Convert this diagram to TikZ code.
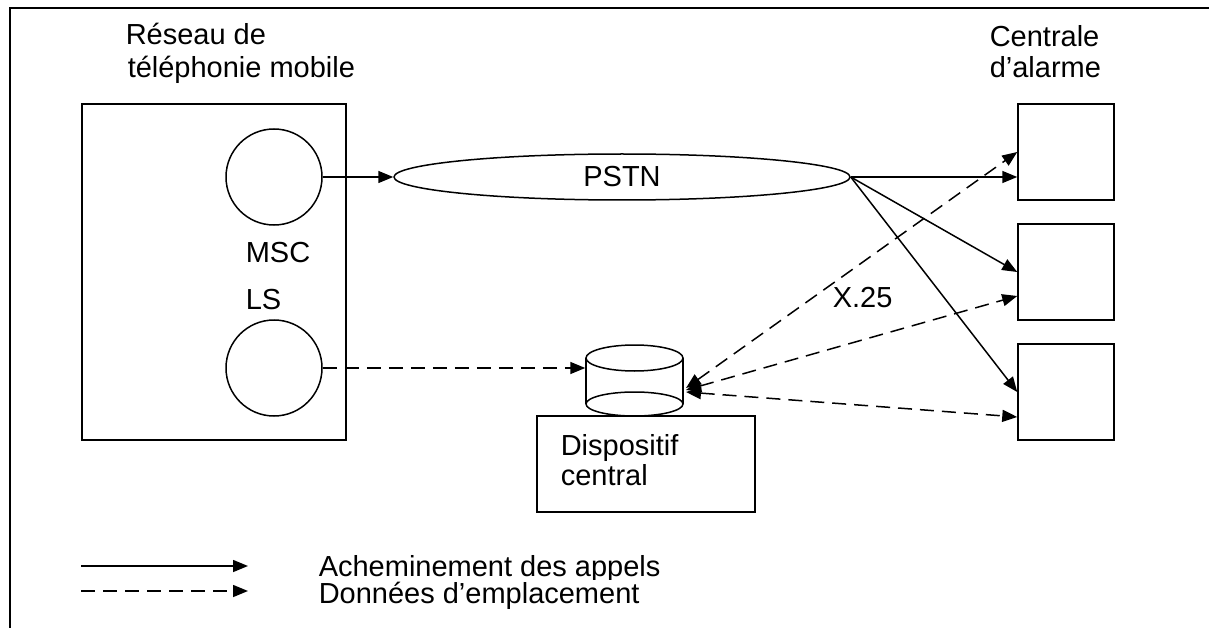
\documentclass[tikz,border=0pt]{standalone}
\usepackage{fontspec}
\setmainfont{Liberation Sans}
\usetikzlibrary{arrows.meta,shapes.geometric,calc}
\begin{document}
\begin{tikzpicture}[x=1pt,y=-1pt,
  line width=1.5pt,
  every node/.style={font=\fontsize{29}{32}\selectfont},
  box/.style={draw, rectangle, inner sep=0pt, line width=1.5pt},
  round/.style={draw, circle, inner sep=0pt, minimum size=96pt, line width=1.5pt},
  lbl/.style={anchor=base west, inner sep=0pt},
  tip/.style={-{Triangle[length=15pt,width=12pt]}},
  bitip/.style={{Triangle[length=15pt,width=12pt]}-{Triangle[length=15pt,width=12pt]}},
  dsh/.style={dash pattern=on 14pt off 8pt}
]
\useasboundingbox (0,0) rectangle (1209,628);
\draw[line width=2pt] (10,628) -- (10,8) -- (1209,8);

% titles
\node[lbl] (t1) at (125,45) {Réseau de};
\node[lbl] (t2) at (127,78) {téléphonie mobile};
\node[lbl] (t3) at (989,47) {Centrale};
\node[lbl] (t4) at (989,78) {d’alarme};

% mobile network box
\node[box, minimum width=264pt, minimum height=336pt] (mobile) at (214,272) {};
\node[round] (msc) at (274,177) {};
\node[round] (ls) at (274,368) {};
\node[lbl] (msct) at (245,262) {MSC};
\node[lbl] (lst) at (245,309) {LS};

% PSTN
\node[draw, ellipse, inner sep=0pt, minimum width=456pt, minimum height=46pt, line width=1.5pt] (pstn) at (622,177) {PSTN};

% alarm centres
\node[box, minimum width=96pt, minimum height=96pt] (c1) at (1066,152) {};
\node[box, minimum width=96pt, minimum height=96pt] (c2) at (1066,272) {};
\node[box, minimum width=96pt, minimum height=96pt] (c3) at (1066,392) {};

% central device
\node[box, minimum width=218pt, minimum height=96pt] (disp) at (646,464) {};
\node[lbl] (dt1) at (560,455) {Dispositif};
\node[lbl] (dt2) at (560,485) {central};

% cylinder
\node[inner sep=0pt, minimum width=97pt, minimum height=71pt] (cyl) at (634.5,380.5) {};
\draw (586,358) -- (586,404);
\draw (683,358) -- (683,404);
\draw[fill=white] (634.5,404) ellipse [x radius=48.5, y radius=12];
\draw[fill=white] (634.5,358) ellipse [x radius=48.5, y radius=13];
\coordinate (k1) at (686,388);
\coordinate (k2) at (686,390);
\coordinate (k3) at (686,392);

% call routing
\draw[tip] (msc.east) -- (pstn.west);
\draw[tip] (pstn.east) -- ($(c1.west)+(0,25)$);
\draw[tip] (pstn.east) -- (c2.west);
\draw[tip] (pstn.east) -- (c3.west);

% location data
\draw[tip, dsh] (ls.east) -- (ls.east -| cyl.west);
\draw[bitip, dsh] (k1) -- (c1.west);
\draw[bitip, dsh] (k2) -- ($(c2.west)+(0,24)$);
\draw[bitip, dsh] (k3) -- ($(c3.west)+(0,25)$);
\node[lbl] (x25) at (832,307) {X.25};

% legend
\coordinate (la) at (81,566);
\coordinate (lb) at (248,566);
\coordinate (lc) at (81,591);
\coordinate (ld) at (248,591);
\draw[tip] (la) -- (lb);
\draw[tip, dsh] (lc) -- (ld);
\begin{scope}
  \clip (300,540) rectangle (700,579);
  \node[lbl] (lt1) at (318,576) {Acheminement des appels};
\end{scope}
\node[lbl] (lt2) at (318,603) {Données d’emplacement};
\end{tikzpicture}
\end{document}
